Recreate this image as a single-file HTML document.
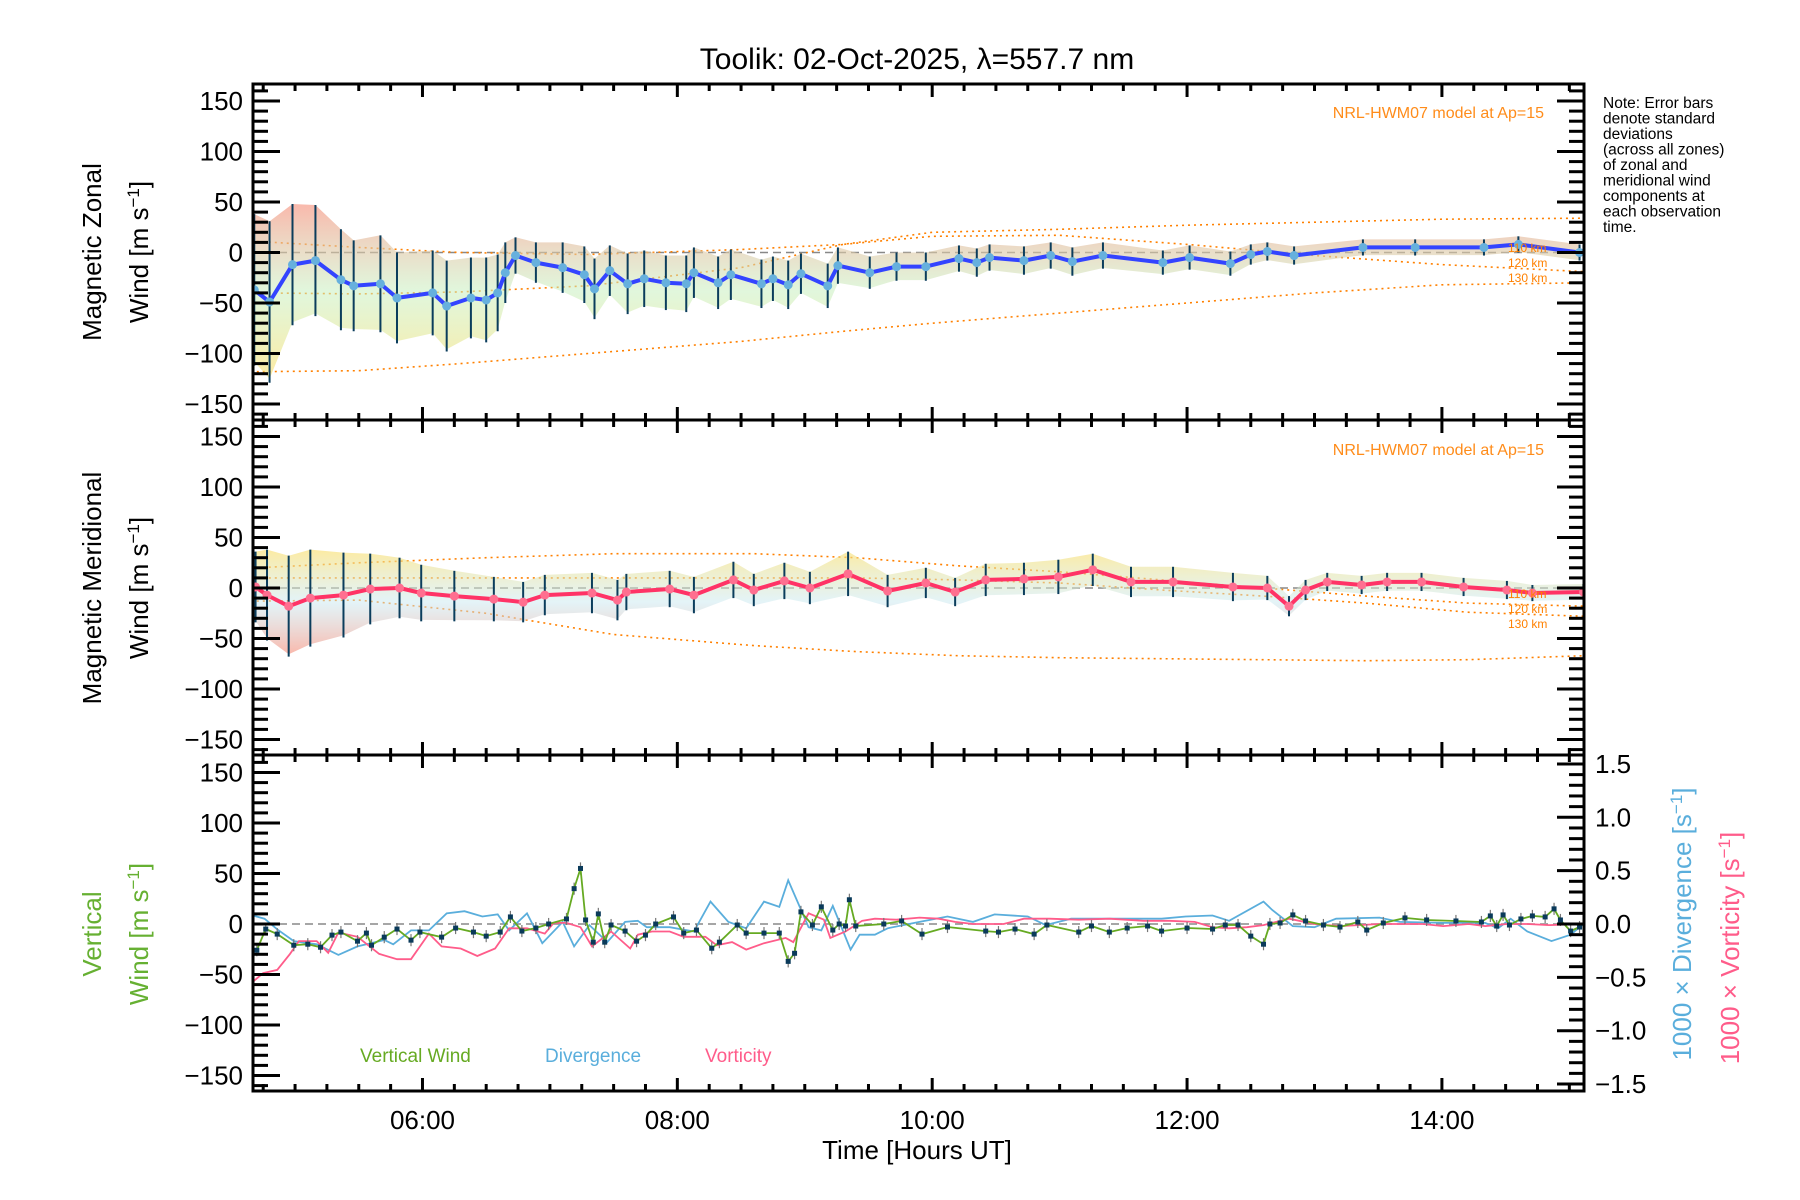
<!DOCTYPE html>
<html><head><meta charset="utf-8"><title>Toolik winds</title>
<style>
html,body{margin:0;padding:0;background:#fff;}
svg{display:block;font-family:"Liberation Sans",sans-serif;}
</style></head>
<body>
<svg id="chart" width="1800" height="1200" viewBox="0 0 1800 1200" xmlns="http://www.w3.org/2000/svg">
<defs>
<linearGradient id="bandZ" x1="0" y1="0" x2="0" y2="1">
<stop offset="0" stop-color="#f79a88" stop-opacity="0.7"/>
<stop offset="0.5" stop-color="#c8f0c0" stop-opacity="0.55"/>
<stop offset="1" stop-color="#fbe070" stop-opacity="0.65"/>
</linearGradient>
<linearGradient id="bandM" x1="0" y1="0" x2="0" y2="1">
<stop offset="0" stop-color="#fbe070" stop-opacity="0.65"/>
<stop offset="0.5" stop-color="#c8e8f0" stop-opacity="0.5"/>
<stop offset="1" stop-color="#f79a88" stop-opacity="0.7"/>
</linearGradient>
</defs>
<text x="917" y="69" font-size="30" text-anchor="middle">Toolik: 02-Oct-2025, λ=557.7 nm</text>
<g id="layer"></g>
<g font-size="15.5">
<text x="1603" y="108">Note: Error bars</text>
<text x="1603" y="123.5">denote standard</text>
<text x="1603" y="139">deviations</text>
<text x="1603" y="154.5">(across all zones)</text>
<text x="1603" y="170">of zonal and</text>
<text x="1603" y="185.5">meridional wind</text>
<text x="1603" y="201">components at</text>
<text x="1603" y="216.5">each observation</text>
<text x="1603" y="232">time.</text>
</g>
</svg>
<script>
// ---- data ----
const zonalTimes=[4.68,4.80,4.98,5.16,5.36,5.46,5.67,5.80,6.08,6.19,6.38,6.50,6.59,6.65,6.73,6.89,7.10,7.27,7.35,7.47,7.61,7.74,7.91,8.07,8.13,8.32,8.42,8.66,8.75,8.87,8.97,9.18,9.26,9.51,9.72,9.95,10.21,10.35,10.45,10.72,10.93,11.10,11.34,11.81,12.02,12.34,12.50,12.63,12.84,13.38,13.79,14.33,14.60,15.08];
const zonalWind=[-37,-49,-12,-8,-27,-33,-31,-45,-40,-53,-45,-47,-40,-20,-3,-10,-15,-22,-36,-18,-31,-26,-30,-31,-20,-30,-22,-31,-26,-32,-21,-33,-13,-20,-14,-14,-6,-10,-5,-8,-3,-9,-3,-10,-5,-11,-2,1,-3,5,5,5,8,0];
const zonalStd=[75,80,60,55,50,45,48,45,42,45,40,42,38,30,18,20,25,28,30,25,30,28,27,28,25,26,25,24,22,24,20,22,18,16,14,14,13,14,13,14,13,14,13,12,12,12,10,9,9,8,8,8,8,8];
const meridTimes=[4.69,4.78,4.95,5.12,5.38,5.59,5.82,5.99,6.25,6.56,6.79,6.96,7.33,7.53,7.60,7.94,8.13,8.44,8.60,8.84,9.04,9.34,9.65,9.95,10.18,10.42,10.72,10.99,11.26,11.56,11.89,12.36,12.63,12.80,12.93,13.10,13.37,13.57,13.84,14.17,14.51,14.71,15.11];
const meridWind=[1,-7,-18,-10,-7,-1,0,-5,-8,-11,-14,-7,-5,-12,-4,-1,-7,8,-2,7,0,14,-3,5,-4,8,9,11,18,6,6,1,0,-18,-2,6,3,6,6,1,-2,-5,-4];
const meridStd=[35,45,50,48,42,35,30,28,25,22,20,20,20,20,18,18,18,18,16,18,16,22,16,15,14,16,16,17,16,15,15,14,12,10,10,9,9,9,9,9,9,8,8];
const vertTimes=[4.70,4.77,4.86,4.99,5.10,5.20,5.29,5.36,5.49,5.56,5.60,5.70,5.80,5.91,5.98,6.15,6.26,6.40,6.50,6.61,6.69,6.78,6.89,6.99,7.13,7.19,7.24,7.28,7.34,7.38,7.43,7.48,7.59,7.68,7.75,7.83,7.97,8.05,8.15,8.27,8.33,8.47,8.54,8.68,8.80,8.87,8.92,8.97,9.06,9.13,9.22,9.27,9.32,9.35,9.40,9.62,9.76,9.92,10.12,10.42,10.52,10.65,10.80,10.90,11.15,11.25,11.39,11.53,11.69,11.80,12.00,12.20,12.30,12.40,12.50,12.60,12.65,12.73,12.83,12.93,13.07,13.20,13.34,13.41,13.54,13.71,13.88,14.11,14.31,14.38,14.43,14.48,14.53,14.62,14.71,14.81,14.88,14.93,15.01,15.08];
const vertWind=[-26,-5,-10,-21,-20,-23,-11,-8,-17,-9,-21,-13,-5,-16,-8,-13,-4,-8,-12,-8,7,-7,-4,0,5,35,55,4,-18,10,-18,-1,-7,-17,-11,0,7,-9,-6,-24,-18,-1,-9,-9,-9,-37,-29,12,-1,17,-6,0,-2,24,-2,0,3,-10,-3,-7,-8,-5,-10,-1,-8,-2,-8,-4,-2,-7,-4,-5,-1,-1,-12,-20,0,1,9,3,-1,-3,2,-6,1,6,4,3,2,8,-2,9,-1,5,8,7,15,4,-7,-3];
const divTimes=[4.67,4.76,4.86,4.99,5.17,5.34,5.49,5.70,5.77,5.91,6.05,6.19,6.33,6.47,6.59,6.68,6.82,6.94,7.10,7.19,7.31,7.45,7.59,7.69,7.76,7.94,8.13,8.26,8.40,8.54,8.68,8.80,8.87,9.03,9.13,9.22,9.36,9.43,9.55,9.65,9.90,10.12,10.32,10.49,10.75,10.89,11.09,11.39,11.80,11.99,12.20,12.33,12.60,12.67,12.83,13.00,13.17,13.51,13.67,14.01,14.34,14.44,14.54,14.67,14.86,15.01,15.11];
const divergence=[0.08,0.05,-0.05,-0.16,-0.19,-0.29,-0.21,-0.15,-0.19,-0.06,-0.06,0.10,0.12,0.07,0.09,-0.06,0.10,-0.18,0.02,-0.21,-0.01,-0.17,0.02,0.03,-0.03,-0.03,-0.07,0.21,0.02,-0.04,0.21,0.16,0.41,-0.03,-0.06,0.17,-0.24,-0.10,-0.10,-0.04,0.02,0.07,0.02,0.09,0.07,-0.01,0.05,0.05,0.05,0.07,0.08,0.03,0.21,0.13,-0.02,-0.03,0.05,0.06,0.02,0.01,0.01,-0.04,0.05,-0.07,-0.16,-0.10,0.0];
const vortTimes=[4.67,4.75,4.86,4.96,5.03,5.17,5.26,5.34,5.49,5.66,5.80,5.91,6.05,6.15,6.30,6.43,6.57,6.68,6.82,6.96,7.03,7.13,7.24,7.33,7.48,7.63,7.69,7.80,7.94,8.05,8.22,8.31,8.43,8.54,8.68,8.85,8.91,9.03,9.15,9.20,9.32,9.45,9.55,9.72,9.90,10.05,10.18,10.32,10.56,10.72,10.92,11.15,11.39,11.66,11.86,12.06,12.20,12.33,12.47,12.60,12.80,13.00,13.20,13.51,13.85,14.01,14.21,14.34,14.51,14.67,14.84,15.11];
const vorticity=[-0.54,-0.46,-0.43,-0.28,-0.16,-0.16,-0.27,-0.08,-0.12,-0.28,-0.33,-0.33,-0.09,-0.21,-0.23,-0.30,-0.23,-0.04,-0.04,-0.09,0.01,0.01,-0.03,-0.21,-0.07,-0.23,-0.10,-0.07,-0.07,-0.12,-0.12,-0.20,-0.17,-0.24,-0.18,-0.13,-0.17,0.10,0.04,-0.13,-0.07,0.03,0.05,0.04,0.06,0.05,0.02,0.0,0.0,0.05,0.05,0.04,0.05,0.03,0.03,0.02,-0.03,-0.04,-0.03,-0.01,0.05,0.0,-0.02,0.0,0.0,-0.02,0.0,-0.02,0.0,0.0,-0.01,0.0];
const zModelTimes=[4.7,5.5,6.3,7.3,8.5,9.3,10.0,11.0,12.0,13.0,14.0,15.12];
const zModelA=[-40,-41,-39,-33,-15,8,20,23,27,30,33,34];
const zModelB=[11,5,0,-2,3,8,16,17,8,-3,-12,-19];
const zModelC=[-118,-117,-110,-100,-88,-78,-70,-60,-50,-40,-32,-30];
const mModelTimes=[4.7,5.5,6.5,7.5,8.6,9.4,10.2,11.0,11.8,12.6,13.4,14.2,15.12];
const mModelA=[20,25,30,34,34,30,22,16,8,0,-8,-15,-18];
const mModelB=[10,10,10,10,10,10,8,5,-2,-8,-15,-24,-28];
const mModelC=[-13,-12,-25,-46,-57,-63,-67,-69,-70,-71,-72,-71,-67];
const yTickValues=[-150,-100,-50,0,50,100,150];
const yTickLabels=["−150","−100","−50","0","50","100","150"];
const rTickValues=[-1.5,-1.0,-0.5,0.0,0.5,1.0,1.5];
const rTickLabels=["−1.5","−1.0","−0.5","0.0","0.5","1.0","1.5"];
const xTickValues=[6,8,10,12,14];
const xTickLabels=["06:00","08:00","10:00","12:00","14:00"];

// ---- layout ----
const L=253,R=1584,T0=4.67,T1=15.115;
const panels=[{top:84,bot:420,zero:252.5},{top:420,bot:755,zero:588},{top:755,bot:1091,zero:924}];
const PXV=1.01, PXR=106.7;
const X=t=>L+(t-T0)*(R-L)/(T1-T0);
const Y=(p,v)=>panels[p].zero-v*PXV;
const YR=v=>panels[2].zero-v*PXR;
const NS="http://www.w3.org/2000/svg";
const layer=document.getElementById('layer');
function mk(tag,attrs,parent){const e=document.createElementNS(NS,tag);for(const k in attrs)e.setAttribute(k,attrs[k]);(parent||layer).appendChild(e);return e;}
function pts(ts,vs,f){return ts.map((t,i)=>X(t).toFixed(1)+','+f(vs[i]).toFixed(1)).join(' ');}

const cp=mk('clipPath',{id:'plotclip'});
mk('rect',{x:L,y:84,width:R-L,height:1007},cp);
const plot=mk('g',{'clip-path':'url(#plotclip)'});

for(let p=0;p<3;p++){
  const z=mk('line',{x1:L,x2:R,y1:panels[p].zero,y2:panels[p].zero,stroke:'#888',"stroke-width":1.5,"stroke-dasharray":"8,5"},plot);
  
  
}

function windPanel(p,ts,vs,sd,grad,lineCol,markCol,name){
  const up=ts.map((t,i)=>X(t).toFixed(1)+','+Y(p,vs[i]+sd[i]).toFixed(1));
  const dn=ts.map((t,i)=>X(t).toFixed(1)+','+Y(p,vs[i]-sd[i]*0.95).toFixed(1)).reverse();
  const band=mk('polygon',{points:up.concat(dn).join(' '),fill:'url(#'+grad+')'},plot);
  
  
  ts.forEach((t,i)=>{
    const e=mk('line',{x1:X(t),x2:X(t),y1:Y(p,vs[i]+sd[i]),y2:Y(p,vs[i]-sd[i]),stroke:'#0b3d5c',"stroke-width":2},plot);
    
    
  });
  const ln=mk('polyline',{points:pts(ts,vs,v=>Y(p,v)),fill:'none',stroke:lineCol,"stroke-width":4,"stroke-linejoin":"round"},plot);
  
  
  ts.forEach((t,i)=>{
    const c=mk('circle',{cx:X(t),cy:Y(p,vs[i]),r:4.5,fill:markCol},plot);
    
    
  });
}
function model(p,ts,vs,name){
  const m=mk('polyline',{points:pts(ts,vs,v=>Y(p,v)),fill:'none',stroke:'#ff8000',"stroke-width":1.6,"stroke-dasharray":"2,4"},plot);
  
  
}
model(0,zModelTimes,zModelA,'zonal-model-110km');
model(0,zModelTimes,zModelB,'zonal-model-120km');
model(0,zModelTimes,zModelC,'zonal-model-130km');
model(1,mModelTimes,mModelA,'meridional-model-110km');
model(1,mModelTimes,mModelB,'meridional-model-120km');
model(1,mModelTimes,mModelC,'meridional-model-130km');
windPanel(0,zonalTimes,zonalWind,zonalStd,'bandZ','#3344ff','#66b0dd','zonal');
windPanel(1,meridTimes,meridWind,meridStd,'bandM','#ff3366','#ff6f90','meridional');

const dl=mk('polyline',{points:pts(divTimes,divergence,YR),fill:'none',stroke:'#5aaedc',"stroke-width":1.8},plot);


const vl=mk('polyline',{points:pts(vortTimes,vorticity,YR),fill:'none',stroke:'#ff5c8a',"stroke-width":1.8},plot);


vertTimes.forEach((t,i)=>{
  const e=mk('line',{x1:X(t),x2:X(t),y1:Y(2,vertWind[i]+6),y2:Y(2,vertWind[i]-6),stroke:'#777',"stroke-width":1.2},plot);
  
  
});
const wl=mk('polyline',{points:pts(vertTimes,vertWind,v=>Y(2,v)),fill:'none',stroke:'#66aa22',"stroke-width":1.8},plot);


vertTimes.forEach((t,i)=>{
  const s=mk('rect',{x:X(t)-2.5,y:Y(2,vertWind[i])-2.5,width:5,height:5,fill:'#0a3a5a'},plot);
  
  
});

function txt(x,y,s,attrs,name){const e=mk('text',Object.assign({x:x,y:y},attrs));e.textContent=s;return e;}
for(let p=0;p<3;p++){
  const P=panels[p];
  const f=mk('rect',{x:L,y:P.top,width:R-L,height:P.bot-P.top,fill:'none',stroke:'#000',"stroke-width":3});
  
  
  for(let v=-160;v<=160;v+=10){
    const y=Y(p,v); if(y<P.top+2||y>P.bot-2) continue;
    const major=v%50===0; const len=major?27:15;
    mk('line',{x1:L,x2:L+len,y1:y,y2:y,stroke:'#000',"stroke-width":3});
    if(p<2) mk('line',{x1:R,x2:R-len,y1:y,y2:y,stroke:'#000',"stroke-width":3});
  }
  yTickValues.forEach((v,i)=>txt(243,Y(p,v)+9,yTickLabels[i],{"font-size":26,"text-anchor":"end"},'y-tick-label'));
  for(let t=4.75;t<T1;t+=0.25){
    const x=X(t); const major=Math.abs(t-Math.round(t/2)*2)<0.01;
    const len=major?13:7;
    mk('line',{x1:x,x2:x,y1:P.top,y2:P.top+len,stroke:'#000',"stroke-width":3});
    mk('line',{x1:x,x2:x,y1:P.bot,y2:P.bot-len,stroke:'#000',"stroke-width":3});
  }
}
for(let v=-1.5;v<=1.5001;v+=0.1){
  const y=YR(v); const major=Math.abs(v*2-Math.round(v*2))<0.01;
  mk('line',{x1:R,x2:R-(major?27:15),y1:y,y2:y,stroke:'#000',"stroke-width":3});
}
rTickValues.forEach((v,i)=>txt(1595,YR(v)+9,rTickLabels[i],{"font-size":26},'right-tick-label'));
xTickValues.forEach((v,i)=>txt(X(v),1129,xTickLabels[i],{"font-size":26,"text-anchor":"middle"},'x-tick-label'));
txt(917,1159,'Time [Hours UT]',{"font-size":26,"text-anchor":"middle"},'x-axis-title');

function vtitle(x,y,s,col,name){const e=txt(x,y,'',{"font-size":26,"text-anchor":"middle",fill:col,transform:'rotate(-90 '+x+' '+y+')'},name);e.innerHTML=s;}
vtitle(101,252,'Magnetic  Zonal','#000','zonal-y-title-1');
vtitle(148,252,'Wind  [m  s<tspan baseline-shift="super" font-size="17">−1</tspan>]','#000','zonal-y-title-2');
vtitle(101,588,'Magnetic  Meridional','#000','meridional-y-title-1');
vtitle(148,588,'Wind  [m  s<tspan baseline-shift="super" font-size="17">−1</tspan>]','#000','meridional-y-title-2');
vtitle(101,934,'Vertical','#66b032','vertical-y-title-1');
vtitle(148,934,'Wind  [m  s<tspan baseline-shift="super" font-size="17">−1</tspan>]','#66b032','vertical-y-title-2');
vtitle(1691,924,'1000  ×  Divergence  [s<tspan baseline-shift="super" font-size="17">−1</tspan>]','#5aaedc','divergence-y-title');
vtitle(1739,948,'1000  ×  Vorticity  [s<tspan baseline-shift="super" font-size="17">−1</tspan>]','#ff5c8a','vorticity-y-title');

txt(1544,118,'NRL-HWM07 model at Ap=15',{"font-size":16,"text-anchor":"end",fill:'#ff8c1a'},'zonal-model-label');
txt(1544,455,'NRL-HWM07 model at Ap=15',{"font-size":16,"text-anchor":"end",fill:'#ff8c1a'},'meridional-model-label');
[['110 km',252],['120 km',267],['130 km',282]].forEach(a=>txt(1508,a[1],a[0],{"font-size":12,fill:'#ff8000'},'zonal-altitude-label'));
[['110 km',598],['120 km',613],['130 km',628]].forEach(a=>txt(1508,a[1],a[0],{"font-size":12,fill:'#ff8000'},'meridional-altitude-label'));

txt(360,1062,'Vertical Wind',{"font-size":19,fill:'#66aa22'},'legend-vertical-wind');
txt(545,1062,'Divergence',{"font-size":19,fill:'#5aaedc'},'legend-divergence');
txt(705,1062,'Vorticity',{"font-size":19,fill:'#ff5c8a'},'legend-vorticity');
</script>
</body></html>
